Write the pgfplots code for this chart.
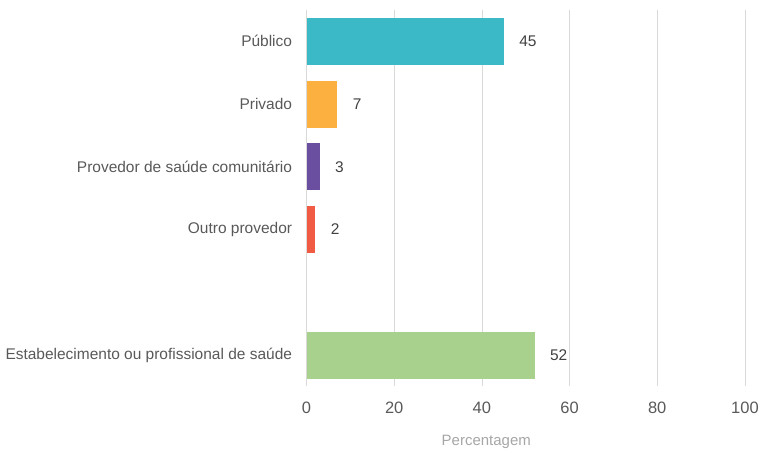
\documentclass[border=0pt]{standalone}
\usepackage{pgfplots}
\pgfplotsset{compat=1.18}
\usepackage{fontspec}
\setmainfont{Liberation Sans}
\definecolor{cteal}{HTML}{3BB9C6}
\definecolor{corange}{HTML}{FBB040}
\definecolor{cpurple}{HTML}{6A4FA0}
\definecolor{cred}{HTML}{F25B43}
\definecolor{cgreen}{HTML}{A8D18D}
\definecolor{ctext}{HTML}{595959}
\definecolor{cgrid}{HTML}{D9D9D9}
\begin{document}
\begin{tikzpicture}
\begin{axis}[
  scale only axis,
  width=439pt, height=377pt,
  xmin=0, xmax=100,
  ymin=-0.5, ymax=5.5,
  y dir=reverse,
  xbar, bar width=0.75, bar shift=0pt,
  xtick={0,20,40,60,80,100},
  ytick={0,1,2,3,5},
  yticklabels={Público,Privado,Provedor de saúde comunitário,Outro provedor,Estabelecimento ou profissional de saúde},
  major tick length=0pt,
  axis line style={draw=none},
  xmajorgrids,
  grid style={cgrid, line width=0.8pt},
  tick label style={font=\fontsize{15.5}{18}\selectfont, text=ctext},
  /pgf/number format/assume math mode=true,
  yticklabel style={xshift=-11pt},
  xticklabel style={yshift=-12pt, font=\fontsize{16.5}{18}\selectfont},
  xlabel={Percentagem},
  xlabel style={font=\fontsize{15}{17}\selectfont, text=gray!70, at={(axis description cs:0.41,0)}, anchor=north, yshift=-45pt},
  nodes near coords,
  every node near coord/.append style={font=\fontsize{15.5}{18}\selectfont, text=black!75, anchor=west, xshift=12pt},
]
\addplot[draw=none, fill=cteal] coordinates {(45,0)};
\addplot[draw=none, fill=corange] coordinates {(7,1)};
\addplot[draw=none, fill=cpurple] coordinates {(3,2)};
\addplot[draw=none, fill=cred] coordinates {(2,3)};
\addplot[draw=none, fill=cgreen] coordinates {(52,5)};
\end{axis}
\path (current axis.south west) ++(-307pt,-64pt) rectangle ++(762pt,451pt);
\end{tikzpicture}
\end{document}
